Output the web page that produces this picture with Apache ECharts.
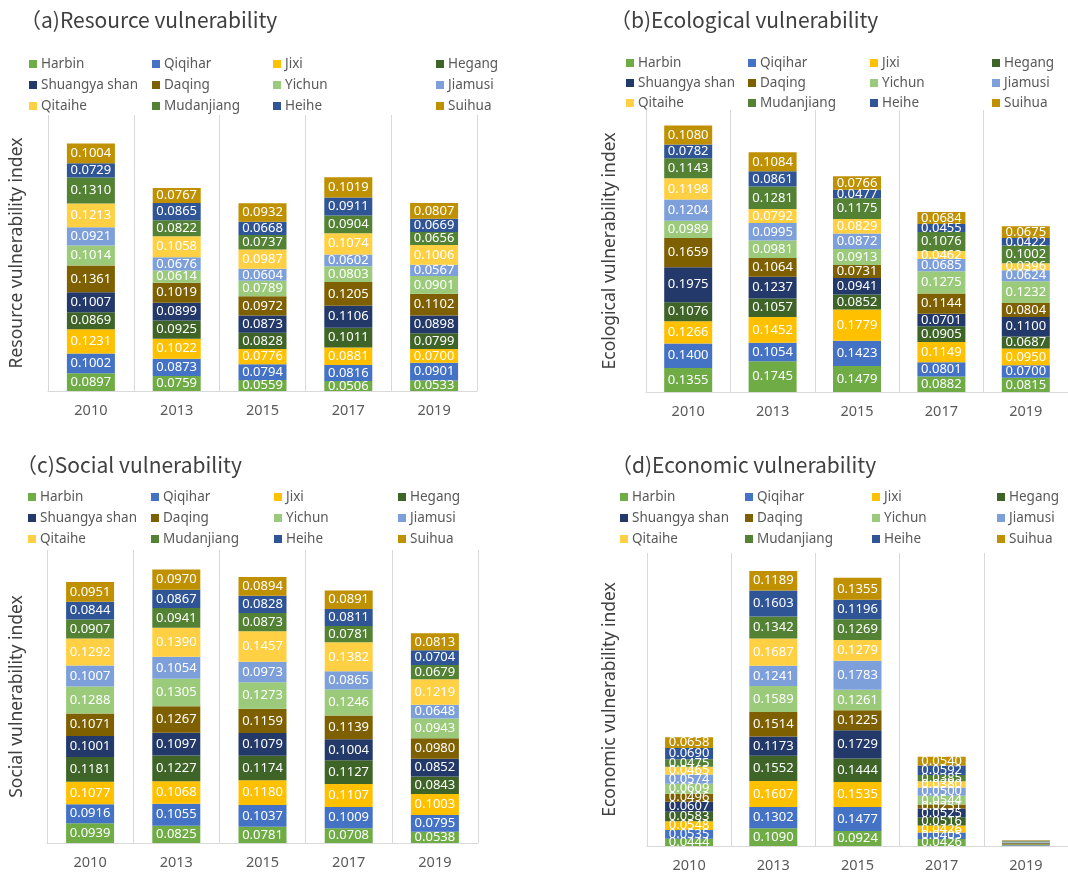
<!DOCTYPE html>
<html>
<head>
<meta charset="utf-8">
<script src="https://cdn.jsdelivr.net/npm/echarts@6/dist/echarts.min.js"></script>
<style>
  html, body { margin: 0; padding: 0; background: #fff; }
  #main { width: 1068px; height: 874px; }
</style>
</head>
<body>
<div id="main"></div>
<script>
var years = ['2010', '2013', '2015', '2017', '2019']
var cities = ['Harbin', 'Qiqihar', 'Jixi', 'Hegang', 'Shuangya shan', 'Daqing',
  'Yichun', 'Jiamusi', 'Qitaihe', 'Mudanjiang', 'Heihe', 'Suihua']
var cityColors = ['#6FAC46', '#4472C4', '#FFC000', '#3F6427', '#22396A', '#7F6000',
  '#9BCB7A', '#7EA0DA', '#FFD043', '#548235', '#2F5597', '#BF9000']

// one row per year, values bottom -> top in city order
var resourceData = [
  [0.0897, 0.1002, 0.1231, 0.0869, 0.1007, 0.1361, 0.1014, 0.0921, 0.1213, 0.1310, 0.0729, 0.1004],
  [0.0759, 0.0873, 0.1022, 0.0925, 0.0899, 0.1019, 0.0614, 0.0676, 0.1058, 0.0822, 0.0865, 0.0767],
  [0.0559, 0.0794, 0.0776, 0.0828, 0.0873, 0.0972, 0.0789, 0.0604, 0.0987, 0.0737, 0.0668, 0.0932],
  [0.0506, 0.0816, 0.0881, 0.1011, 0.1106, 0.1205, 0.0803, 0.0602, 0.1074, 0.0904, 0.0911, 0.1019],
  [0.0533, 0.0901, 0.0700, 0.0799, 0.0898, 0.1102, 0.0901, 0.0567, 0.1006, 0.0656, 0.0669, 0.0807]
]
var ecologicalData = [
  [0.1355, 0.1400, 0.1266, 0.1076, 0.1975, 0.1659, 0.0989, 0.1204, 0.1198, 0.1143, 0.0782, 0.1080],
  [0.1745, 0.1054, 0.1452, 0.1057, 0.1237, 0.1064, 0.0981, 0.0995, 0.0792, 0.1281, 0.0861, 0.1084],
  [0.1479, 0.1423, 0.1779, 0.0852, 0.0941, 0.0731, 0.0913, 0.0872, 0.0829, 0.1175, 0.0477, 0.0766],
  [0.0882, 0.0801, 0.1149, 0.0905, 0.0701, 0.1144, 0.1275, 0.0685, 0.0462, 0.1076, 0.0455, 0.0684],
  [0.0815, 0.0700, 0.0950, 0.0687, 0.1100, 0.0804, 0.1232, 0.0624, 0.0396, 0.1002, 0.0422, 0.0675]
]
var socialData = [
  [0.0939, 0.0916, 0.1077, 0.1181, 0.1001, 0.1071, 0.1288, 0.1007, 0.1292, 0.0907, 0.0844, 0.0951],
  [0.0825, 0.1055, 0.1068, 0.1227, 0.1097, 0.1267, 0.1305, 0.1054, 0.1390, 0.0941, 0.0867, 0.0970],
  [0.0781, 0.1037, 0.1180, 0.1174, 0.1079, 0.1159, 0.1273, 0.0973, 0.1457, 0.0873, 0.0828, 0.0894],
  [0.0708, 0.1009, 0.1107, 0.1127, 0.1004, 0.1139, 0.1246, 0.0865, 0.1382, 0.0781, 0.0811, 0.0891],
  [0.0538, 0.0795, 0.1003, 0.0843, 0.0852, 0.0980, 0.0943, 0.0648, 0.1219, 0.0679, 0.0704, 0.0813]
]
var economicData = [
  [0.0444, 0.0535, 0.0548, 0.0583, 0.0607, 0.0496, 0.0609, 0.0574, 0.0465, 0.0475, 0.0690, 0.0658],
  [0.1090, 0.1302, 0.1607, 0.1552, 0.1173, 0.1514, 0.1589, 0.1241, 0.1687, 0.1342, 0.1603, 0.1189],
  [0.0924, 0.1477, 0.1535, 0.1444, 0.1729, 0.1225, 0.1261, 0.1783, 0.1279, 0.1269, 0.1196, 0.1355],
  [0.0426, 0.0405, 0.0426, 0.0516, 0.0525, 0.0251, 0.0544, 0.0500, 0.0380, 0.0385, 0.0592, 0.0540],
  [0.0028, 0.0031, 0.0030, 0.0027, 0.0033, 0.0029, 0.0032, 0.0030, 0.0026, 0.0031, 0.0028, 0.0030]
]

var legendCols = [
  ['Harbin', 'Shuangya shan', 'Qitaihe'],
  ['Qiqihar', 'Daqing', 'Mudanjiang'],
  ['Jixi', 'Yichun', 'Heihe'],
  ['Hegang', 'Jiamusi', 'Suihua']
]

var panels = [
  {title: '（a)Resource vulnerability', yName: 'Resource vulnerability index', data: resourceData,
    grid: {left: 48, top: 115, width: 429, height: 276}, max: 1.4, nameGap: 22,
    titlePos: [20, 10], legendX: [29, 152, 273, 436], legendY: 64, rowH: 21},
  {title: '（b)Ecological vulnerability', yName: 'Ecological vulnerability index', data: ecologicalData,
    grid: {left: 646, top: 110, width: 424, height: 282}, max: 1.6, nameGap: 27,
    titlePos: [610, 10], legendX: [626, 748, 870, 992], legendY: 63, rowH: 20},
  {title: '（c)Social vulnerability', yName: 'Social vulnerability index', data: socialData,
    grid: {left: 47, top: 550, width: 431, height: 293}, max: 1.4, nameGap: 21,
    titlePos: [16, 455], legendX: [28, 151, 274, 398], legendY: 497, rowH: 21},
  {title: '（d)Economic vulnerability', yName: 'Economic vulnerability index', data: economicData,
    grid: {left: 647, top: 553, width: 423, height: 293}, max: 1.8, nameGap: 28,
    titlePos: [611, 455], legendX: [620, 745, 872, 997], legendY: 497, rowH: 21}
]

var font = 'Noto Sans'
var option = {
  backgroundColor: '#fff',
  animation: false,
  title: [],
  legend: [],
  grid: [],
  xAxis: [],
  yAxis: [],
  series: []
}

panels.forEach(function (p, k) {
  option.title.push({
    text: p.title,
    left: p.titlePos[0],
    top: p.titlePos[1],
    padding: 0,
    textStyle: {fontFamily: 'Noto Sans CJK SC', fontSize: 21, fontWeight: 'normal', color: '#404040'}
  })
  legendCols.forEach(function (col, c) {
    option.legend.push({
      orient: 'vertical',
      left: p.legendX[c],
      top: p.legendY - p.rowH / 2,
      padding: 0,
      itemGap: 0,
      itemWidth: 8,
      itemHeight: 8,
      icon: 'rect',
      selectedMode: false,
      data: col,
      textStyle: {fontFamily: font, fontSize: 13.5, color: '#595959', lineHeight: p.rowH, padding: [0, 0, 0, -1]}
    })
  })
  option.grid.push(p.grid)
  option.xAxis.push({
    type: 'category',
    gridIndex: k,
    data: years,
    axisLine: {lineStyle: {color: '#d9d9d9', width: 1}},
    axisTick: {show: false},
    splitLine: {show: true, lineStyle: {color: '#d9d9d9', width: 1}},
    axisLabel: {color: '#595959', fontFamily: font, fontSize: 14.5, margin: 12}
  })
  option.yAxis.push({
    type: 'value',
    gridIndex: k,
    min: 0,
    max: p.max,
    name: p.yName,
    nameLocation: 'middle',
    nameGap: p.nameGap,
    nameTextStyle: {fontFamily: font, fontSize: 17.5, color: '#404040'},
    axisLine: {show: false},
    axisTick: {show: false},
    axisLabel: {show: false},
    splitLine: {show: false}
  })
  cities.forEach(function (city, i) {
    option.series.push({
      name: city,
      type: 'bar',
      xAxisIndex: k,
      yAxisIndex: k,
      stack: 'panel' + k,
      barWidth: 48,
      itemStyle: {color: cityColors[i]},
      label: {
        show: true,
        position: 'inside',
        color: '#fff',
        fontFamily: font,
        fontSize: 13,
        formatter: function (d) { return d.value >= 0.01 ? d.value.toFixed(4) : '' }
      },
      data: p.data.map(function (row) { return row[i] })
    })
  })
})

var chart = echarts.init(document.getElementById('main'))
chart.setOption(option)
</script>
</body>
</html>
